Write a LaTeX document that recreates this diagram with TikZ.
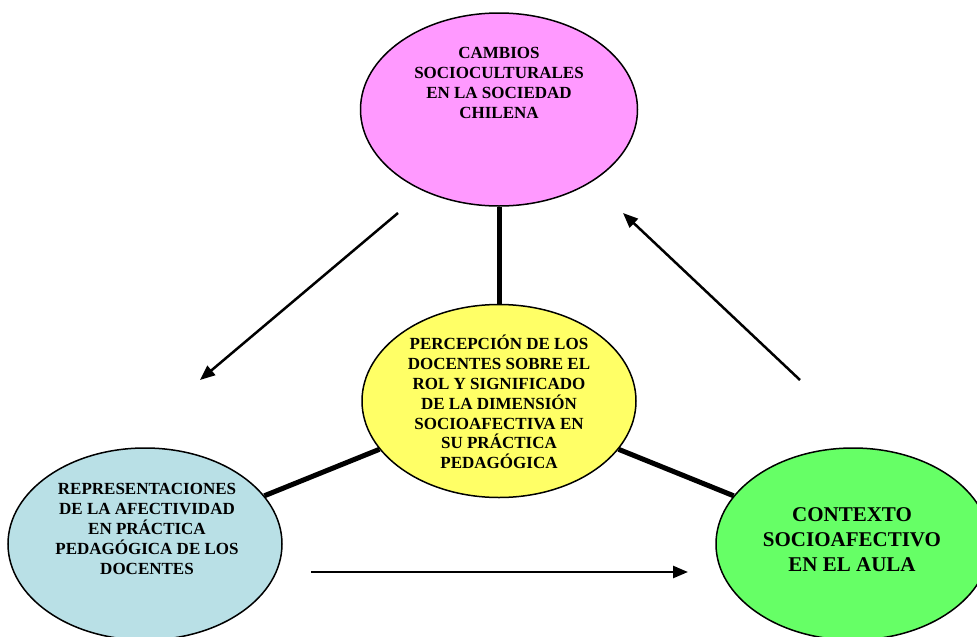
\documentclass[tikz,border=0pt]{standalone}
\usepackage{fontspec}
\setmainfont{Liberation Serif}
\usetikzlibrary{shapes.geometric,arrows.meta}
\definecolor{pinkc}{RGB}{255,153,255}
\definecolor{yellowc}{RGB}{255,255,102}
\definecolor{bluec}{RGB}{185,224,230}
\definecolor{greenc}{RGB}{102,255,102}
\begin{document}
\begin{tikzpicture}[x=1pt,y=-1pt,
  ell/.style={ellipse, draw=black, line width=1.5pt, inner sep=0pt},
  txt/.style={align=center, font=\fontsize{17}{19.8}\selectfont\bfseries, inner sep=0pt},
  bigtxt/.style={align=center, font=\fontsize{21}{25}\selectfont\bfseries, inner sep=0pt},
  link/.style={line width=5pt},
  flow/.style={line width=2.5pt, -{Triangle[length=15pt,width=12pt]}}]
\useasboundingbox (0,0) rectangle (977,637);
% ellipses
\node[ell, fill=pinkc, minimum width=277pt, minimum height=193pt] (top) at (499,109.5) {};
\node[ell, fill=yellowc, minimum width=274pt, minimum height=193pt] (mid) at (499,401) {};
\node[ell, fill=bluec, minimum width=274pt, minimum height=192pt] (left) at (145,544) {};
\node[ell, fill=greenc, minimum width=274pt, minimum height=192pt] (right) at (853,544) {};
% texts
\node[txt] (topT) at (499,83) {CAMBIOS\\SOCIOCULTURALES\\EN LA SOCIEDAD\\CHILENA};
\node[txt] (midT) at (499,402) {PERCEPCIÓN DE LOS\\DOCENTES SOBRE EL\\ROL Y SIGNIFICADO\\DE LA DIMENSIÓN\\SOCIOAFECTIVA EN\\SU PRÁCTICA\\PEDAGÓGICA};
\node[txt] (leftT) at (147,529) {REPRESENTACIONES\\DE LA AFECTIVIDAD\\EN PRÁCTICA\\PEDAGÓGICA DE LOS\\DOCENTES};
\node[bigtxt] (rightT) at (852,540) {CONTEXTO\\SOCIOAFECTIVO\\EN EL AULA};
% thick links
\draw[link] (top) -- (mid);
\draw[link] (mid) -- (left);
\draw[link] (mid) -- (right);
% arrows
\coordinate (a1s) at (398,213);
\coordinate (a1e) at (200,380);
\coordinate (a2s) at (800,380);
\coordinate (a2e) at (623,213);
\coordinate (a3s) at (311,572);
\coordinate (a3e) at (688,572);
\draw[flow] (a1s) -- (a1e);
\draw[flow] (a2s) -- (a2e);
\draw[flow] (a3s) -- (a3e);
\end{tikzpicture}
\end{document}
